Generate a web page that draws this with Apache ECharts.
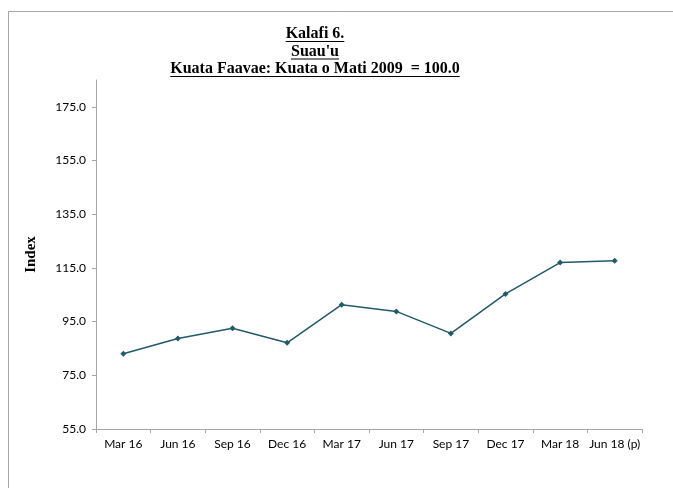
<!DOCTYPE html>
<html>
<head>
<meta charset="utf-8">
<script src="https://cdn.jsdelivr.net/npm/echarts@6/dist/echarts.min.js"></script>
<style>
html,body{margin:0;padding:0;background:#fff;}
#chart{width:673px;height:488px;}
</style>
</head>
<body>
<div id="chart"></div>
<script>
const categories = ['Mar 16','Jun 16','Sep 16','Dec 16','Mar 17','Jun 17','Sep 17','Dec 17','Mar 18','Jun 18 (p)'];
const values = [83.0, 88.7, 92.5, 87.1, 101.3, 98.8, 90.6, 105.3, 117.0, 117.7];
const titleLines = ['Kalafi 6.', "Suau'u", 'Kuata Faavae: Kuata o Mati 2009  = 100.0'];
const yAxisName = 'Index';

const titleFont = 'bold 16px "Liberation Serif"';
const ctx = document.createElement('canvas').getContext('2d');
ctx.font = titleFont;
const cx = 315;
const graphics = [{
  type: 'rect', shape: {x: 8.5, y: 11.5, width: 700, height: 500},
  style: {fill: null, stroke: '#a6a6a6', lineWidth: 1}, silent: true
}];
titleLines.forEach((t, i) => {
  const y = 26 + i * 17.5;
  const w = ctx.measureText(t).width;
  graphics.push({type: 'text', x: cx, y: y, style: {text: t, font: titleFont, fill: '#000', align: 'center', verticalAlign: 'top'}});
  graphics.push({type: 'line', shape: {x1: cx - w/2, y1: y + 15.5, x2: cx + w/2, y2: y + 15.5}, style: {stroke: '#000', lineWidth: 1}});
});

const chart = echarts.init(document.getElementById('chart'), null, {renderer: 'canvas'});
chart.setOption({
  animation: false,
  backgroundColor: '#fff',
  graphic: graphics,
  grid: {left: 96, right: 31, top: 80, bottom: 59, containLabel: false},
  xAxis: {
    type: 'category', data: categories, boundaryGap: true,
    axisLine: {lineStyle: {color: '#a6a6a6', width: 1}},
    axisTick: {show: true, length: 4, lineStyle: {color: '#a6a6a6'}},
    axisLabel: {color: '#000', fontFamily: 'Lato', fontSize: 12, margin: 9, interval: 0}
  },
  yAxis: {
    type: 'value', min: 55, max: 185, interval: 20,
    name: yAxisName, nameLocation: 'middle', nameGap: 57, nameRotate: 90,
    nameTextStyle: {fontFamily: 'Liberation Serif', fontWeight: 'bold', fontSize: 15, color: '#000'},
    axisLine: {show: true, lineStyle: {color: '#a6a6a6', width: 1}},
    axisTick: {show: true, length: 4, lineStyle: {color: '#a6a6a6'}},
    splitLine: {show: false},
    axisLabel: {color: '#000', fontFamily: 'Lato', fontSize: 12, margin: 10, showMaxLabel: false,
      formatter: v => v.toFixed(1)}
  },
  series: [{
    type: 'line', data: values,
    lineStyle: {color: '#215a68', width: 1.5},
    itemStyle: {color: '#215a68'},
    symbol: 'diamond', symbolSize: 6, showSymbol: true
  }]
});
</script>
</body>
</html>
